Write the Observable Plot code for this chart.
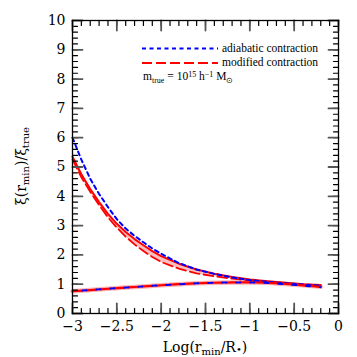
<!DOCTYPE html>
<html><head><meta charset="utf-8">
<script src="https://cdn.jsdelivr.net/npm/d3@7"></script>
<script src="https://cdn.jsdelivr.net/npm/@observablehq/plot@0.6"></script>
<style>body{margin:0;background:#fff;overflow:hidden}svg{display:block}</style>
</head><body><div id="chart"></div>
<script>
// Data
const logR = [-3, -2.9, -2.8, -2.7, -2.6, -2.5, -2.4, -2.3, -2.2, -2.1, -2.0, -1.8, -1.6, -1.4, -1.2, -1.0, -0.8, -0.6, -0.4, -0.2];
const adiabaticUpper = [6.0, 5.25, 4.6, 4.08, 3.63, 3.22, 2.9, 2.65, 2.43, 2.22, 2.04, 1.72, 1.5, 1.35, 1.23, 1.14, 1.08, 1.03, 0.99, 0.95];
const modifiedUpper = [5.35, 4.75, 4.25, 3.8, 3.4, 3.06, 2.78, 2.54, 2.33, 2.13, 1.96, 1.7, 1.5, 1.36, 1.25, 1.16, 1.1, 1.05, 1.0, 0.97];
const modifiedUpperLow = [5.25, 4.65, 4.15, 3.7, 3.28, 2.93, 2.62, 2.36, 2.13, 1.93, 1.76, 1.53, 1.37, 1.27, 1.19, 1.12, 1.07, 1.02, 0.97, 0.93];
const lowerLogR = [-3, -2.8, -2.6, -2.4, -2.2, -2.0, -1.8, -1.6, -1.4, -1.2, -1.0, -0.8, -0.6, -0.4, -0.2];
const adiabaticLower = [0.76, 0.8, 0.845, 0.885, 0.925, 0.965, 1.0, 1.03, 1.05, 1.06, 1.06, 1.045, 1.0, 0.95, 0.9];
const modifiedLower = [0.76, 0.8, 0.845, 0.885, 0.925, 0.965, 1.0, 1.03, 1.05, 1.06, 1.06, 1.05, 1.01, 0.96, 0.91];

const xTicks = [-3, -2.5, -2, -1.5, -1, -0.5, 0];
const xTickLabels = ["−3", "−2.5", "−2", "−1.5", "−1", "−0.5", "0"];
const yTicks = [0, 1, 2, 3, 4, 5, 6, 7, 8, 9, 10];
const yTickLabels = ["0", "1", "2", "3", "4", "5", "6", "7", "8", "9", "10"];
const xMinor = d3.range(-30, 1).map(d => d / 10);
const yMinor = d3.range(0, 51).map(d => d / 5);

const upper = logR.map((x, i) => ({x, ad: adiabaticUpper[i], mod: modifiedUpper[i], modLow: modifiedUpperLow[i]}));
const lower = lowerLogR.map((x, i) => ({x, ad: adiabaticLower[i], mod: modifiedLower[i]}));

const serif = "DejaVu Serif";
const W = 357, H = 357, mL = 72, mR = 19, mT = 20, mB = 44;
const xDom = [-3, 0], yDom = [0, 10];
const xPerPx = (xDom[1] - xDom[0]) / (W - mL - mR);
const yPerPx = (yDom[1] - yDom[0]) / (H - mT - mB);

// tick segments as two-point polylines (drawn as paths via Plot.line with z)
let tickId = 0;
const tickPts = (kind, ticks, len) => ticks.flatMap(v => {
  const out = [];
  if (kind === "x") {
    const a = tickId++, b = tickId++;
    out.push({id: a, x: v, y: yDom[0]}, {id: a, x: v, y: yDom[0] + len * yPerPx});
    out.push({id: b, x: v, y: yDom[1]}, {id: b, x: v, y: yDom[1] - len * yPerPx});
  } else {
    const a = tickId++, b = tickId++;
    out.push({id: a, y: v, x: xDom[0]}, {id: a, y: v, x: xDom[0] + len * xPerPx});
    out.push({id: b, y: v, x: xDom[1]}, {id: b, y: v, x: xDom[1] - len * xPerPx});
  }
  return out;
});
const minorTickPts = [...tickPts("x", xMinor, 5), ...tickPts("y", yMinor, 5)];
const majorTickPts = [...tickPts("x", xTicks, 10), ...tickPts("y", yTicks, 10)];

const chart = Plot.plot({
  width: W, height: H,
  marginLeft: mL, marginRight: mR, marginTop: mT, marginBottom: mB,
  x: {domain: xDom},
  y: {domain: yDom},
  style: {background: "white", fontFamily: serif},
  marks: [
    Plot.areaY(upper, {x: "x", y1: "modLow", y2: "mod", fill: "#ffb3b3", fillOpacity: 0.85}),
    Plot.line(lower, {x: "x", y: "mod", stroke: "#ffb3b3", strokeWidth: 4.5}),
    Plot.line(upper, {x: "x", y: "mod", stroke: "red", strokeWidth: 2}),
    Plot.line(upper, {x: "x", y: "modLow", stroke: "red", strokeWidth: 1.8, strokeDasharray: "10,4"}),
    Plot.line(upper, {x: "x", y: "ad", stroke: "blue", strokeWidth: 2, strokeDasharray: "4,3.5"}),
    Plot.line(lower, {x: "x", y: "mod", stroke: "red", strokeWidth: 2.2, strokeDasharray: "10,4"}),
    Plot.line(lower, {x: "x", y: "ad", stroke: "blue", strokeWidth: 2, strokeDasharray: "4,10", strokeDashoffset: -10}),
    Plot.line(minorTickPts, {x: "x", y: "y", z: "id", stroke: "black", strokeWidth: 1.2}),
    Plot.line(majorTickPts, {x: "x", y: "y", z: "id", stroke: "#555", strokeWidth: 1.8}),
    Plot.axisX({anchor: "bottom", ticks: xTicks, tickSize: 0, tickPadding: 8, label: null, fontSize: 14,
      fontFamily: serif, tickFormat: d => xTickLabels[xTicks.indexOf(d)]}),
    Plot.axisY({anchor: "left", ticks: yTicks, tickSize: 0, tickPadding: 7, label: null, fontSize: 14,
      fontFamily: serif, tickFormat: d => yTickLabels[yTicks.indexOf(d)]}),
    Plot.frame({stroke: "black", strokeWidth: 1.3})
  ]
});
document.getElementById("chart").appendChild(chart);

const svg = d3.select(chart);
// Axis titles
const xl = svg.append("text").attr("x", 205).attr("y", 352).attr("text-anchor", "middle")
  .attr("font-family", serif).attr("font-size", 14);
xl.append("tspan").text("Log(r");
xl.append("tspan").attr("font-size", 10).attr("dy", 3).text("min");
xl.append("tspan").attr("dy", -3).text("/R");
xl.append("tspan").attr("font-size", 10).attr("dy", 1).text("•");
xl.append("tspan").attr("dy", -1).text(")");

const yl = svg.append("text").attr("transform", "translate(26,166) rotate(-90)").attr("text-anchor", "middle")
  .attr("font-family", serif).attr("font-size", 14);
yl.append("tspan").text("ξ(r");
yl.append("tspan").attr("font-size", 10).attr("dy", 3).text("min");
yl.append("tspan").attr("dy", -3).text(")/ξ");
yl.append("tspan").attr("font-size", 10).attr("dy", 3).text("true");

// Legend
const lg = svg.append("g").attr("font-family", "Liberation Serif").attr("font-size", 11.5).attr("text-anchor", "start");
lg.append("line").attr("x1", 142).attr("x2", 218).attr("y1", 48.5).attr("y2", 48.5)
  .attr("stroke", "blue").attr("stroke-width", 2).attr("stroke-dasharray", "4,3.5");
lg.append("line").attr("x1", 142).attr("x2", 218).attr("y1", 63).attr("y2", 63)
  .attr("stroke", "red").attr("stroke-width", 2).attr("stroke-dasharray", "10,4");
lg.append("text").attr("x", 222).attr("y", 51.5).text("adiabatic contraction");
lg.append("text").attr("x", 222).attr("y", 66).text("modified contraction");
const m = lg.append("text").attr("x", 143).attr("y", 80);
m.append("tspan").text("m");
m.append("tspan").attr("font-size", 8).attr("dy", 2.5).text("true");
m.append("tspan").attr("dy", -2.5).text(" = 10");
m.append("tspan").attr("font-size", 8).attr("dy", -3.5).text("15");
m.append("tspan").attr("dy", 3.5).text(" h");
m.append("tspan").attr("font-size", 8).attr("dy", -3.5).text("−1");
m.append("tspan").attr("dy", 3.5).text(" M");
m.append("tspan").attr("font-size", 8).attr("dy", 2.5).text("⊙");
</script>
</body></html>
